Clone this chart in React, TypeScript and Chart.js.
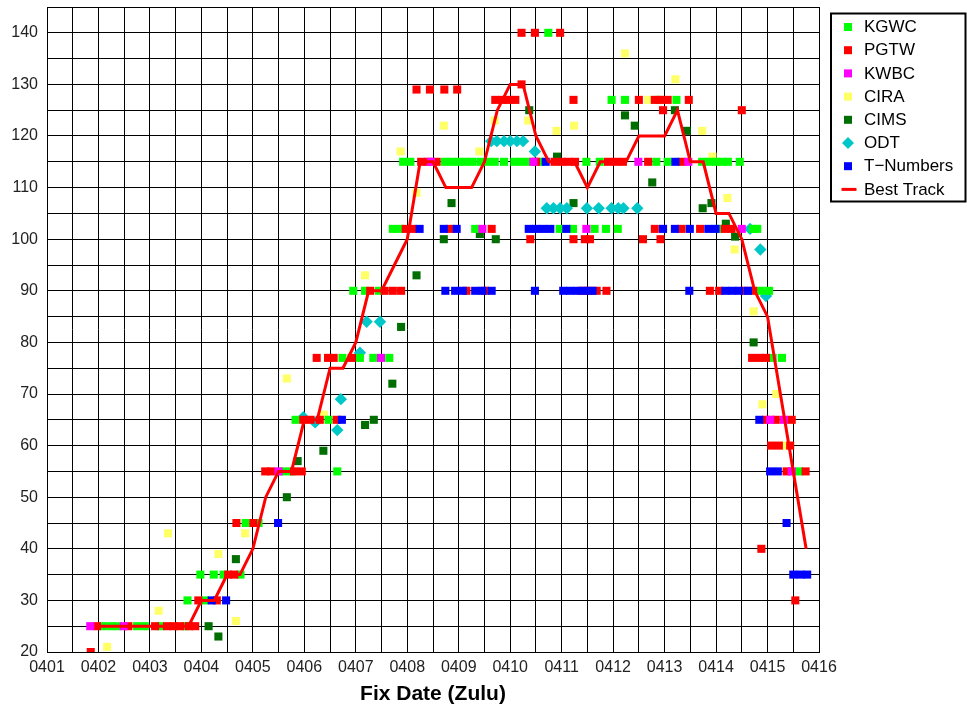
import React, { useEffect, useRef } from 'react';
import { Chart, registerables } from 'chart.js';

Chart.register(...registerables);

type P = [number, number];

// x = day of April (decimal, 2.25 = 0402 06Z), y = intensity (kt)
const KGWC: P[] = [
  [2.10, 25], [2.25, 25], [2.38, 25], [2.75, 25], [2.90, 25], [3.20, 25], [3.68, 25],
  [3.73, 30], [4.07, 30],
  [3.98, 35], [4.24, 35], [4.43, 35], [4.76, 35],
  [4.86, 45], [5.11, 45],
  [5.60, 55], [5.75, 55], [6.64, 55],
  [5.83, 65], [6.47, 65],
  [6.74, 77], [7.08, 77], [7.34, 77], [7.65, 77],
  [6.95, 90], [7.18, 90], [7.45, 90], [14.87, 90], [15.03, 90],
  [7.72, 102], [7.86, 102], [9.32, 102], [10.96, 102], [11.22, 102], [11.64, 102], [11.86, 102], [12.09, 102], [14.04, 102], [14.72, 102], [14.80, 102],
  [7.92, 115], [8.06, 115], [8.73, 115], [8.86, 115], [9.00, 115], [9.13, 115], [9.26, 115], [9.42, 115], [9.55, 115], [9.70, 115], [9.88, 115],
  [10.08, 115], [10.21, 115], [10.35, 115], [10.58, 115], [11.48, 115], [11.74, 115], [12.84, 115], [13.06, 115], [13.73, 115], [13.87, 115],
  [14.00, 115], [14.12, 115], [14.23, 115], [14.46, 115],
  [11.97, 127], [12.23, 127], [12.88, 127], [13.23, 127],
  [10.74, 140],
  [15.10, 77], [15.28, 77], [15.61, 55],
];

const PGTW: P[] = [
  [1.85, 20],
  [1.97, 25], [2.58, 25], [3.10, 25], [3.33, 25], [3.46, 25], [3.59, 25], [3.76, 25], [3.88, 25],
  [3.94, 30], [4.30, 30],
  [4.52, 35], [4.64, 35],
  [4.68, 45], [5.01, 45],
  [5.24, 55], [5.36, 55], [5.80, 55], [5.95, 55],
  [5.98, 65], [6.12, 65], [6.30, 65], [6.63, 65],
  [6.24, 77], [6.46, 77], [6.57, 77], [6.92, 77],
  [7.28, 90], [7.56, 90], [7.72, 90], [7.88, 90], [9.15, 90], [9.51, 90], [11.39, 90], [11.52, 90], [11.68, 90], [11.87, 90],
  [13.88, 90], [14.06, 90], [14.55, 90], [14.72, 90],
  [10.39, 100], [11.23, 100], [11.45, 100], [11.55, 100], [12.58, 100], [12.92, 100],
  [7.97, 102], [8.10, 102], [8.83, 102], [9.64, 102], [12.81, 102], [13.33, 102], [13.69, 102], [14.17, 102], [14.30, 102],
  [8.27, 115], [8.40, 115], [8.57, 115], [10.50, 115], [10.86, 115], [11.00, 115], [11.13, 115], [11.26, 115], [11.90, 115],
  [12.05, 115], [12.19, 115], [12.68, 115], [13.34, 115],
  [12.97, 125], [14.50, 125],
  [9.71, 127], [9.85, 127], [9.97, 127], [10.10, 127], [11.23, 127], [12.50, 127], [12.81, 127], [12.94, 127], [13.06, 127], [13.47, 127],
  [8.18, 129], [8.44, 129], [8.72, 129], [8.97, 129],
  [10.22, 130],
  [10.22, 140], [10.48, 140], [10.97, 140],
  [14.70, 77], [14.85, 77], [14.97, 77],
  [14.97, 65], [15.16, 65], [15.47, 65],
  [15.07, 60], [15.22, 60], [15.44, 60],
  [15.37, 55], [15.74, 55],
  [14.88, 40], [15.54, 30],
];

const KWBC: P[] = [
  [1.84, 25], [2.49, 25], [5.50, 55], [7.49, 77], [8.46, 115], [9.46, 102], [10.45, 115], [11.48, 102],
  [12.49, 115], [13.46, 115], [14.50, 102], [15.05, 65], [15.32, 65], [15.47, 55],
];

const CIRA: P[] = [
  [2.17, 21], [3.17, 28], [3.35, 43], [4.33, 39], [4.67, 26], [4.85, 43], [5.66, 73], [6.38, 66], [7.18, 93],
  [7.87, 117], [8.18, 109], [8.71, 122], [9.40, 117], [9.70, 123], [10.35, 123], [10.90, 121], [11.24, 122],
  [12.23, 136], [12.68, 127], [13.21, 131], [13.73, 121], [13.93, 116], [14.22, 108], [14.36, 98], [14.73, 86],
  [14.90, 68], [15.17, 70], [15.34, 60],
];

const CIMS: P[] = [
  [4.14, 25], [4.33, 23], [4.67, 38], [5.66, 50], [5.87, 57], [6.37, 59], [7.18, 64], [7.35, 65], [7.71, 72],
  [7.88, 83], [8.18, 93], [8.71, 100], [8.86, 107], [9.41, 101], [9.72, 100], [10.37, 125], [10.91, 116],
  [11.23, 107], [12.23, 124], [12.42, 122], [12.76, 111], [13.20, 125], [13.43, 121], [13.74, 106], [13.91, 107],
  [14.19, 103], [14.37, 100.5], [14.73, 80],
];

const ODT: P[] = [
  [5.98, 65.5], [6.21, 64.5], [6.64, 63], [6.71, 69], [7.08, 78], [7.21, 84], [7.47, 84],
  [9.63, 119], [9.74, 119], [9.88, 119], [10.00, 119], [10.13, 119], [10.25, 119], [10.48, 117],
  [10.71, 106], [10.84, 106], [10.97, 106], [11.10, 106], [11.49, 106], [11.72, 106], [11.97, 106],
  [12.10, 106], [12.20, 106], [12.47, 106],
  [14.66, 102], [14.86, 98], [14.97, 89],
];

const TNUM: P[] = [
  [4.20, 30], [4.48, 30], [5.49, 45], [6.73, 65],
  [8.74, 90], [8.93, 90], [9.08, 90], [9.32, 90], [9.46, 90], [9.64, 90], [10.48, 90], [11.03, 90], [11.16, 90],
  [11.30, 90], [11.45, 90], [11.60, 90], [13.48, 90], [14.18, 90], [14.32, 90], [14.45, 90], [14.62, 90],
  [8.24, 102], [8.71, 102], [8.96, 102], [10.36, 102], [10.50, 102], [10.64, 102], [10.78, 102], [11.09, 102],
  [12.97, 102], [13.20, 102], [13.49, 102], [13.85, 102], [13.99, 102],
  [10.69, 115], [13.21, 115],
  [14.84, 65], [15.05, 55], [15.20, 55], [15.37, 45], [15.50, 35], [15.64, 35], [15.77, 35],
];

const BEST_TRACK: P[] = [
  [2.00, 25], [2.25, 25], [2.50, 25], [2.75, 25], [3.00, 25], [3.25, 25], [3.50, 25], [3.75, 25],
  [4.00, 30], [4.25, 30], [4.50, 35], [4.75, 35], [5.00, 40], [5.25, 50], [5.50, 55], [5.75, 55],
  [6.00, 65], [6.25, 65], [6.50, 75], [6.75, 75], [7.00, 80], [7.25, 90], [7.50, 90], [7.75, 95],
  [8.00, 100], [8.25, 115], [8.50, 115], [8.75, 110], [9.00, 110], [9.25, 110], [9.50, 115], [9.75, 125],
  [10.00, 130], [10.25, 130], [10.50, 120], [10.75, 115], [11.00, 115], [11.25, 115], [11.50, 110], [11.75, 115],
  [12.00, 115], [12.25, 115], [12.50, 120], [12.75, 120], [13.00, 120], [13.25, 125], [13.50, 115], [13.75, 115],
  [14.00, 105], [14.25, 105], [14.50, 100], [14.75, 90], [15.00, 85], [15.25, 70], [15.50, 55], [15.75, 40],
];

const X_MIN = 1;
const X_MAX = 16;
const Y_MIN = 20;
const Y_MAX = 145;
const TITLE_X = 'Fix Date (Zulu)';

type Entry = { label: string; color: string; kind: 'rect' | 'rectRot' | 'line' };
const LEGEND: Entry[] = [
  { label: 'KGWC', color: '#00ff00', kind: 'rect' },
  { label: 'PGTW', color: '#ff0000', kind: 'rect' },
  { label: 'KWBC', color: '#ff00ff', kind: 'rect' },
  { label: 'CIRA', color: '#ffff66', kind: 'rect' },
  { label: 'CIMS', color: '#006e00', kind: 'rect' },
  { label: 'ODT', color: '#00c8c8', kind: 'rectRot' },
  { label: 'T\u2212Numbers', color: '#0000ff', kind: 'rect' },
  { label: 'Best Track', color: '#ff0000', kind: 'line' },
];

const pts = (a: P[]) => a.map(([x, y]) => ({ x, y }));

const FONT = '"Liberation Sans", Arial, sans-serif';

const legendPlugin = {
  id: 'customLegend',
  afterDraw(chart: any) {
    const ctx = chart.ctx as CanvasRenderingContext2D;
    ctx.save();
    ctx.fillStyle = '#fff';
    ctx.fillRect(831, 13.5, 134.5, 188);
    ctx.strokeStyle = '#000';
    ctx.lineWidth = 2;
    ctx.strokeRect(831, 13.5, 134.5, 188);
    ctx.font = `17px ${FONT}`;
    ctx.textBaseline = 'middle';
    ctx.textAlign = 'left';
    LEGEND.forEach((e, i) => {
      const cy = 27 + i * 23.2;
      const mx = 848;
      ctx.fillStyle = e.color;
      if (e.kind === 'rect') {
        ctx.fillRect(mx - 4, cy - 4, 8, 8);
      } else if (e.kind === 'rectRot') {
        ctx.beginPath();
        ctx.moveTo(mx - 6, cy);
        ctx.lineTo(mx, cy - 6);
        ctx.lineTo(mx + 6, cy);
        ctx.lineTo(mx, cy + 6);
        ctx.closePath();
        ctx.fill();
      } else {
        ctx.strokeStyle = e.color;
        ctx.lineWidth = 3;
        ctx.beginPath();
        ctx.moveTo(841.5, cy);
        ctx.lineTo(856.5, cy);
        ctx.stroke();
      }
      ctx.fillStyle = '#000';
      ctx.fillText(e.label, 864, cy + 0.5);
    });
    // x axis title
    const area = chart.chartArea;
    ctx.font = `bold 21px ${FONT}`;
    ctx.textAlign = 'center';
    ctx.textBaseline = 'alphabetic';
    ctx.fillStyle = '#000';
    ctx.fillText(TITLE_X, (area.left + area.right) / 2, 700);
    ctx.restore();
  },
};

export default function App() {
  const ref = useRef<HTMLCanvasElement | null>(null);

  useEffect(() => {
    if (!ref.current) return;
    const mk = (label: string, data: P[], color: string, style: string, radius: number) => ({
      label,
      data: pts(data),
      backgroundColor: color,
      borderColor: color,
      pointStyle: style,
      pointRadius: radius,
      pointBorderWidth: 0,
      pointHoverRadius: radius,
      showLine: false,
    });
    const chart = new Chart(ref.current, {
      type: 'scatter',
      data: {
        datasets: [
          {
            label: 'Best Track',
            data: pts(BEST_TRACK),
            borderColor: '#ff0000',
            backgroundColor: '#ff0000',
            borderWidth: 3,
            showLine: true,
            pointRadius: 0,
            pointHoverRadius: 0,
            tension: 0,
          } as any,
          mk('T-Numbers', TNUM, '#0000ff', 'rect', 5.7),
          mk('KWBC', KWBC, '#ff00ff', 'rect', 5.7),
          mk('PGTW', PGTW, '#ff0000', 'rect', 5.7),
          mk('KGWC', KGWC, '#00ff00', 'rect', 5.7),
          mk('ODT', ODT, '#00c8c8', 'rectRot', 6.2),
          mk('CIMS', CIMS, '#006e00', 'rect', 5.7),
          mk('CIRA', CIRA, '#ffff66', 'rect', 5.7),
        ],
      },
      options: {
        animation: false,
        responsive: false,
        events: [],
        layout: { padding: { left: 0, right: 148, top: 7, bottom: 0 } },
        plugins: { legend: { display: false }, tooltip: { enabled: false }, title: { display: false } },
        scales: {
          x: {
            type: 'linear',
            min: X_MIN,
            max: X_MAX,
            afterFit: (s: any) => {
              s.height = 57;
              s.paddingLeft = 0;
              s.paddingRight = 0;
            },
            ticks: {
              stepSize: 0.5,
              autoSkip: false,
              maxRotation: 0,
              minRotation: 0,
              padding: 6,
              color: '#222',
              font: { family: FONT, size: 16 },
              callback: (v: any) => (Number.isInteger(v) ? '04' + String(v).padStart(2, '0') : ''),
            },
            grid: { color: '#000', lineWidth: 1, drawTicks: false },
            border: { color: '#000', width: 1 },
          },
          y: {
            type: 'linear',
            min: Y_MIN,
            max: Y_MAX,
            afterFit: (s: any) => {
              s.width = 47;
              s.paddingTop = 0;
              s.paddingBottom = 0;
            },
            ticks: {
              stepSize: 5,
              autoSkip: false,
              padding: 9,
              color: '#222',
              font: { family: FONT, size: 16 },
              callback: (v: any) => (v % 10 === 0 ? String(v) : ''),
            },
            grid: { color: '#000', lineWidth: 1, drawTicks: false },
            border: { color: '#000', width: 1 },
          },
        },
      } as any,
      plugins: [legendPlugin],
    });
    return () => chart.destroy();
  }, []);

  return (
    <div style={{ position: 'fixed', left: 0, top: 0, width: 967, height: 709, background: '#fff' }}>
      <canvas ref={ref} width={967} height={709} style={{ display: 'block', width: 967, height: 709 }} />
    </div>
  );
}
